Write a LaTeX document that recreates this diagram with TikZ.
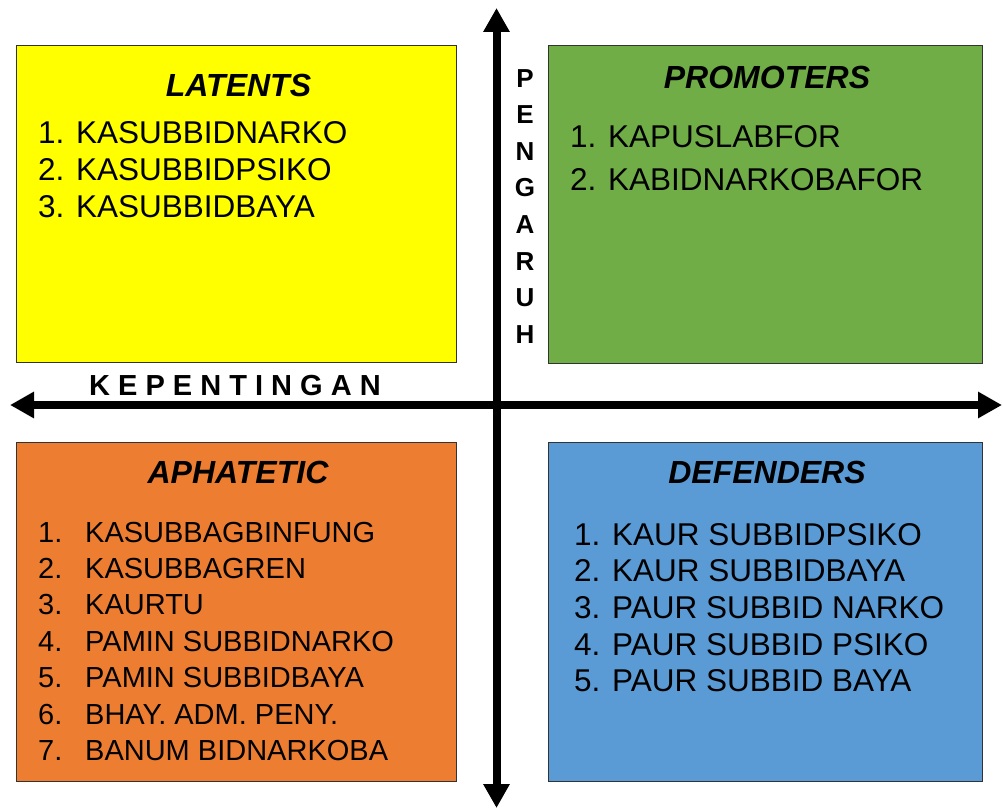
\documentclass[tikz,border=0pt]{standalone}
\usepackage{fontspec}
\setmainfont{Liberation Sans}
\usetikzlibrary{arrows.meta}
\definecolor{latyellow}{HTML}{FFFF00}
\definecolor{promgreen}{HTML}{70AD47}
\definecolor{aphorange}{HTML}{ED7D31}
\definecolor{defblue}{HTML}{5B9BD5}
\tikzset{
  quad/.style={draw=black!80, line width=1pt, anchor=north west, inner sep=0pt},
  qtitle/.style={anchor=base, inner sep=0pt, font=\fontsize{32}{38}\selectfont\bfseries\itshape},
  item/.style={anchor=base west, inner sep=0pt, font=\fontsize{31.5}{38}\selectfont},
  smallitem/.style={anchor=base west, inner sep=0pt, font=\fontsize{29}{35}\selectfont},
  axislabel/.style={anchor=base, inner sep=0pt, font=\fontsize{29}{34}\selectfont\bfseries},
  vletter/.style={anchor=base, inner sep=0pt, font=\fontsize{26}{30}\selectfont\bfseries},
  axisboth/.style={line width=8pt, {Triangle[width=25pt,length=24pt]}-{Triangle[width=25pt,length=24pt]}}
}
\begin{document}
\begin{tikzpicture}[x=1pt,y=-1pt]
\useasboundingbox (0,0) rectangle (1003,808);
\fill[white] (0,0) rectangle (1003,808);
% quadrant boxes
\node[quad, fill=latyellow, minimum width=440pt, minimum height=317pt] (lat) at (16,45) {};
\node[quad, fill=promgreen, minimum width=434pt, minimum height=318pt] (prom) at (548,45) {};
\node[quad, fill=aphorange, minimum width=440pt, minimum height=339pt] (aph) at (16,442) {};
\node[quad, fill=defblue, minimum width=434pt, minimum height=339pt] (def) at (548,442) {};
% titles
\node[qtitle] (latT) at (238.5,96) {LATENTS};
\node[qtitle] (promT) at (767,88) {PROMOTERS};
\node[qtitle] (aphT) at (238,483) {APHATETIC};
\node[qtitle] (defT) at (767,483) {DEFENDERS};
% latents items
\node[item] (lat1) at (38,143) {1. KASUBBIDNARKO};
\node[item] (lat2) at (38,180) {2. KASUBBIDPSIKO};
\node[item] (lat3) at (38,217) {3. KASUBBIDBAYA};
% promoters items
\node[item] (prom1) at (570,147) {1. KAPUSLABFOR};
\node[item] (prom2) at (570,190) {2. KABIDNARKOBAFOR};
% aphatetic items
\node[smallitem] (aph1) at (38,542) {\makebox[47pt][l]{1.}KASUBBAGBINFUNG};
\node[smallitem] (aph2) at (38,578.4) {\makebox[47pt][l]{2.}KASUBBAGREN};
\node[smallitem] (aph3) at (38,614.8) {\makebox[47pt][l]{3.}KAURTU};
\node[smallitem] (aph4) at (38,651.2) {\makebox[47pt][l]{4.}PAMIN SUBBIDNARKO};
\node[smallitem] (aph5) at (38,687.6) {\makebox[47pt][l]{5.}PAMIN SUBBIDBAYA};
\node[smallitem] (aph6) at (38,724) {\makebox[47pt][l]{6.}BHAY. ADM. PENY.};
\node[smallitem] (aph7) at (38,760.4) {\makebox[47pt][l]{7.}BANUM BIDNARKOBA};
% defenders items
\node[item] (def1) at (574,545) {1. KAUR SUBBIDPSIKO};
\node[item] (def2) at (574,581.7) {2. KAUR SUBBIDBAYA};
\node[item] (def3) at (574,618.4) {3. PAUR SUBBID NARKO};
\node[item] (def4) at (574,655.1) {4. PAUR SUBBID PSIKO};
\node[item] (def5) at (574,691.8) {5. PAUR SUBBID BAYA};
% axes
\coordinate (vtop) at (496.5,8);
\coordinate (vbot) at (496.5,808);
\coordinate (hleft) at (10,405);
\coordinate (hright) at (1002,405);
\draw[axisboth] (vbot) -- (vtop);
\draw[axisboth] (hleft) -- (hright);
% axis labels
\node[axislabel] (kep) at (235,395) {K E P E N T I N G A N};
\node[vletter] (p1) at (525,87) {P};
\node[vletter] (p2) at (525,123.6) {E};
\node[vletter] (p3) at (525,160.2) {N};
\node[vletter] (p4) at (525,196.8) {G};
\node[vletter] (p5) at (525,233.4) {A};
\node[vletter] (p6) at (525,270) {R};
\node[vletter] (p7) at (525,306.6) {U};
\node[vletter] (p8) at (525,343.2) {H};
\end{tikzpicture}
\end{document}
